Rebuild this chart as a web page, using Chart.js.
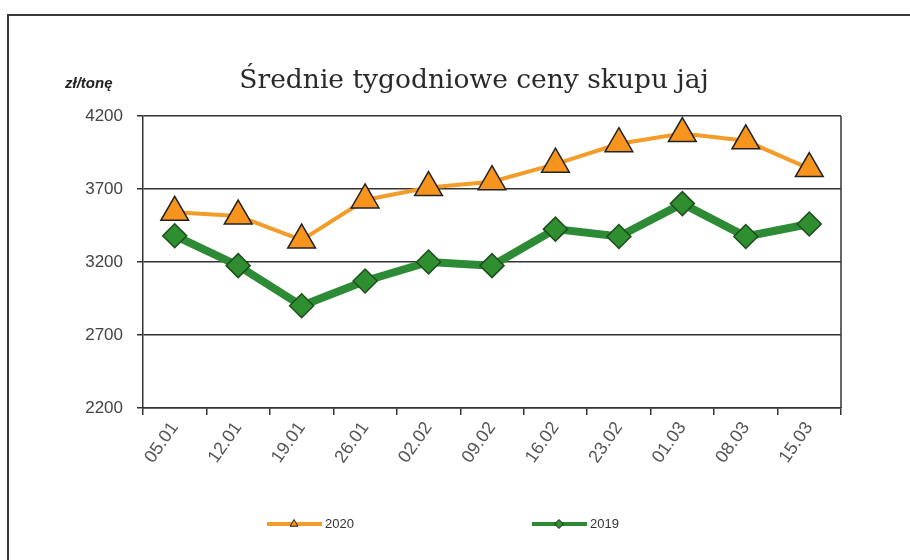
<!DOCTYPE html>
<html>
<head>
<meta charset="utf-8">
<script src="https://cdn.jsdelivr.net/npm/chart.js"></script>
<style>
  html, body { margin: 0; padding: 0; background: #fff; overflow: hidden; }
  #wrap { position: relative; width: 910px; height: 560px; }
  #frame { position: absolute; left: 7px; top: 14px; width: 930px; height: 580px; border: 2px solid #3a3a3a; }
  canvas { position: absolute; left: 0; top: 0; }
</style>
</head>
<body>
<div id="wrap">
  <div id="frame"></div>
  <canvas id="chart" width="910" height="560"></canvas>
</div>
<script>
const weeks = ['05.01', '12.01', '19.01', '26.01', '02.02', '09.02', '16.02', '23.02', '01.03', '08.03', '15.03'];
const prices2020 = [3540, 3515, 3350, 3625, 3710, 3750, 3870, 4010, 4080, 4030, 3840];
const prices2019 = [3380, 3175, 2900, 3070, 3200, 3175, 3425, 3375, 3600, 3375, 3460];
const yTicks = [2200, 2700, 3200, 3700, 4200];
const titleText = 'Średnie tygodniowe ceny skupu jaj';
const unitLabel = 'zł/tonę';

// tytuł, jednostka, prawa krawędź obszaru wykresu i legenda
const extras = {
  id: 'extras',
  afterDraw(chart) {
    const { ctx, chartArea: a } = chart;
    ctx.save();
    ctx.strokeStyle = '#333';
    ctx.lineWidth = 1.5;
    ctx.beginPath();
    ctx.moveTo(a.right, a.top);
    ctx.lineTo(a.right, a.bottom);
    ctx.stroke();

    ctx.fillStyle = '#2a2a2a';
    ctx.font = '26.5px "DejaVu Serif", serif';
    ctx.textAlign = 'center';
    ctx.textBaseline = 'alphabetic';
    ctx.fillText(titleText, 474, 88);

    ctx.textAlign = 'left';
    ctx.fillStyle = '#222';
    ctx.font = 'italic bold 15px "Liberation Sans", Arial, sans-serif';
    ctx.fillText(unitLabel, 65, 88);

    const legendX = [267, 532];
    const y = 524;
    chart.data.datasets.forEach((ds, i) => {
      const x = legendX[i];
      ctx.strokeStyle = ds.borderColor;
      ctx.lineWidth = 4;
      ctx.beginPath();
      ctx.moveTo(x, y);
      ctx.lineTo(x + 55, y);
      ctx.stroke();
      ctx.fillStyle = ds.pointBackgroundColor;
      ctx.strokeStyle = '#222';
      ctx.lineWidth = 1;
      Chart.helpers.drawPoint(ctx, { pointStyle: ds.pointStyle, radius: 4.5, rotation: 0, borderWidth: 1 }, x + 27, y);
      ctx.fillStyle = '#333';
      ctx.font = '13px "Liberation Sans", Arial, sans-serif';
      ctx.textBaseline = 'middle';
      ctx.fillText(ds.label, x + 58, y);
    });
    ctx.restore();
  }
};

new Chart(document.getElementById('chart').getContext('2d'), {
  type: 'line',
  data: {
    labels: weeks,
    datasets: [{
      label: '2020',
      data: prices2020,
      borderColor: '#F39C2A',
      borderWidth: 4,
      pointStyle: 'triangle',
      pointRadius: 16,
      pointBackgroundColor: '#F7941D',
      pointBorderColor: '#222',
      pointBorderWidth: 1.5,
      tension: 0,
      order: 2
    }, {
      label: '2019',
      data: prices2019,
      borderColor: '#2E8B35',
      borderWidth: 8,
      pointStyle: 'rectRot',
      pointRadius: 12,
      pointBackgroundColor: '#2F8F30',
      pointBorderColor: '#1E4D1E',
      pointBorderWidth: 1.5,
      tension: 0,
      order: 1
    }]
  },
  options: {
    responsive: false,
    animation: false,
    layout: { padding: { left: 38, right: 69, top: 116, bottom: 0 } },
    plugins: {
      legend: { display: false },
      tooltip: { enabled: false },
      title: { display: false }
    },
    scales: {
      x: {
        offset: true,
        grid: { offset: true, drawOnChartArea: false, drawTicks: true, tickLength: 7, color: '#333', lineWidth: 1.5 },
        border: { color: '#333', width: 1.5 },
        ticks: { minRotation: 55, maxRotation: 55, padding: 3, color: '#555', font: { family: '"Liberation Sans", Arial, sans-serif', size: 18 } },
        afterFit: s => { s.height = 152; }
      },
      y: {
        min: 2200,
        max: 4200,
        afterBuildTicks: s => { s.ticks = yTicks.map(v => ({ value: v })); },
        grid: { color: '#333', lineWidth: 1.5, tickLength: 6 },
        border: { color: '#333', width: 1.5 },
        ticks: { padding: 14, color: '#444', font: { family: '"Liberation Sans", Arial, sans-serif', size: 17 }, callback: v => String(v) },
        afterFit: s => { s.width = 105; }
      }
    }
  },
  plugins: [extras]
});
</script>
</body>
</html>
